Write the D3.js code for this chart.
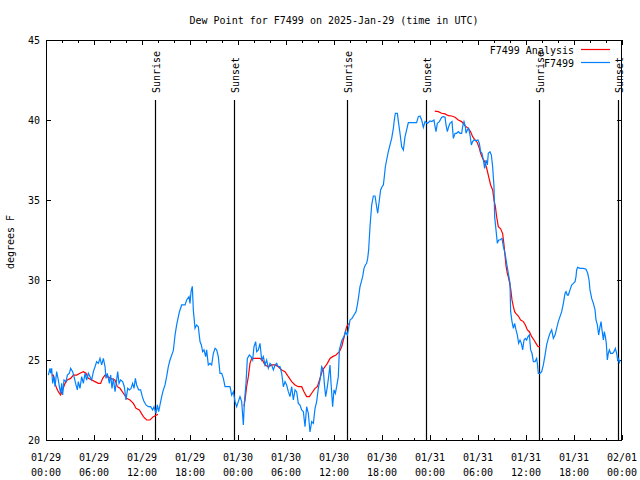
<!DOCTYPE html>
<html>
<head>
<meta charset="utf-8">
<script src="https://cdn.jsdelivr.net/npm/d3@7"></script>
<style>
  body { margin: 0; background: #fff; }
  svg { display: block; }
  text { font-family: "DejaVu Sans Mono", "Liberation Mono", monospace; font-size: 10px; fill: #000; }
</style>
</head>
<body>
<svg id="chart" width="640" height="480"></svg>
<script>
// ---------- DATA ----------
const chartTitle = "Dew Point for F7499 on 2025-Jan-29 (time in UTC)";
const yAxisTitle = "degrees F";
const seriesNames = ["F7499 Analysis", "F7499"];

// observed series: hours since 2025-01-29 00:00 UTC
const obsHours = [
  0.29,0.5,0.58,0.71,0.83,1.0,1.13,1.33,1.54,1.67,1.83,1.96,2.08,2.25,2.5,2.67,2.92,3.08,3.33,3.5,3.75,3.92,4.04,4.25,4.46,4.67,4.88,5.08,5.29,5.5,5.71,5.92,6.13,6.33,6.54,6.75,6.96,7.17,7.38,7.5,7.67,7.92,8.08,8.25,8.42,8.63,8.83,8.96,9.13,9.33,9.58,9.79,10.0,10.21,10.42,10.63,10.83,11.0,11.17,11.33,11.58,11.83,12.04,12.25,12.5,12.79,13.08,13.33,13.5,13.75,13.92,14.08,14.25,14.46,14.67,14.88,15.08,15.29,15.5,
  15.92,16.13,16.33,16.67,16.96,17.38,17.58,17.88,18.0,18.13,18.29,18.42,18.63,18.83,19.04,19.25,19.42,19.58,19.75,19.96,20.08,20.29,20.5,20.71,20.92,21.13,21.33,21.54,21.75,21.96,22.17,22.38,22.58,23.0,
  23.21,23.42,23.63,23.83,24.04,24.25,24.46,24.67,24.79,25.0,25.17,25.42,25.63,25.83,26.0,26.21,26.33,26.54,26.75,26.96,27.17,27.38,27.58,27.79,28.0,28.21,28.42,28.63,28.83,29.04,29.25,29.46,29.67,29.88,30.08,30.29,30.5,30.71,30.92,31.13,31.33,31.54,31.75,31.96,32.17,32.38,32.58,32.79,33.0,33.21,33.42,33.63,33.83,34.04,34.25,34.46,34.67,34.79,34.96,35.17,35.38,35.5,35.63,35.83,36.0,36.17,36.33,36.54,36.67,36.83,37.0,37.25,37.42,37.67,37.83,38.0,38.25,38.5,38.75,38.92,39.08,39.25,39.42,39.58,39.75,39.92,40.08,40.21,40.33,
  40.5,40.71,40.92,41.13,41.33,41.46,41.67,41.83,42.0,42.17,42.29,42.42,42.58,42.79,43.0,43.21,43.42,43.54,43.67,43.92,44.08,44.25,44.46,44.67,44.88,45.08,45.29,45.92,46.33,46.54,46.75,46.96,47.17,47.38,47.67,48.0,48.21,48.5,48.63,48.75,48.92,49.17,49.46,49.67,49.88,50.0,50.17,50.33,50.5,50.75,50.92,51.13,51.33,51.54,51.75,51.96,52.08,52.25,52.42,52.5,52.67,52.83,53.0,53.17,53.33,53.5,53.75,54.0,54.17,54.33,54.5,54.67,54.83,55.0,55.17,55.29,55.5,55.67,55.83,56.0,56.08,56.25,56.42,56.58,56.75,57.0,57.17,57.38,57.58,57.79,58.0,
  58.08,58.25,58.42,58.58,58.75,58.92,59.08,59.25,59.42,59.58,59.75,59.92,60.08,60.25,60.42,60.58,60.75,60.92,61.13,61.33,61.42,61.54,61.75,61.96,62.17,62.38,62.58,62.79,63.0,63.21,63.42,63.63,63.83,64.04,64.25,64.46,64.67,64.88,65.0,65.17,65.29,65.5,65.71,65.92,66.13,66.25,66.33,66.46,66.75,67.17,67.5,67.71,67.88,68.0,68.21,68.42,68.63,68.75,68.92,69.08,69.25,69.38,69.5,69.67,69.79,69.92,70.04,70.17,70.29,70.42,70.58,70.83,71.0,71.17,71.33,71.46,71.58,71.67,71.75
];
const obsValues = [
  24.06,24.48,24.17,24.48,23.54,23.96,23.33,24.27,23.75,23.33,22.92,23.54,22.81,23.75,23.65,24.06,24.17,24.48,24.27,23.96,23.44,23.13,23.65,23.23,23.96,23.54,24.17,23.75,24.17,23.96,23.75,24.27,24.58,24.9,24.79,25.1,24.69,25.1,24.58,23.85,24.17,23.54,24.06,23.23,23.85,23.02,23.75,24.27,23.54,23.75,23.65,23.33,22.5,23.23,23.13,23.23,23.54,23.23,23.85,23.44,23.13,23.13,22.71,22.4,22.19,22.08,22.08,21.88,22.08,21.67,22.19,21.77,22.19,22.71,23.13,23.44,23.96,24.58,25.0,
  25.6,26.56,27.19,28.0,28.44,28.44,28.75,28.96,28.54,29.27,29.6,28.1,26.98,27.19,27.08,26.15,25.94,25.52,25.63,25.21,25.63,24.69,24.79,24.69,25.42,25.73,25.63,25.21,24.17,24.17,23.85,23.33,23.33,23.33,
  22.8,23.02,22.4,22.08,22.4,22.71,22.4,20.94,22.29,23.54,25.1,25.31,25.21,25.0,25.83,26.15,25.52,25.63,26.04,25.0,25.21,24.69,25.0,24.48,24.79,24.69,24.38,24.69,24.79,24.58,24.58,24.17,23.33,23.65,23.44,23.02,22.71,23.33,22.5,23.13,23.02,22.29,22.19,21.88,21.77,20.83,22.08,21.67,20.5,21.15,21.04,21.98,22.4,23.23,23.75,24.58,24.38,23.54,22.71,23.33,24.17,24.69,23.54,22.08,23.13,22.92,23.33,23.96,25.63,25.94,26.25,26.46,26.77,26.56,26.98,27.5,27.6,27.81,28.02,28.44,28.96,29.58,29.9,30.21,30.73,30.94,31.04,31.35,31.88,
  33.33,34.69,35.25,35.25,34.58,34.17,35.0,35.63,35.83,35.94,36.46,37.08,37.5,38.02,38.44,38.85,39.48,40.0,40.42,40.42,39.79,39.17,38.33,38.13,38.96,39.38,39.83,39.83,39.83,40.21,40.25,40.0,39.54,39.9,39.79,39.94,39.9,40.0,39.58,39.27,39.79,39.9,40.17,40.21,40.17,39.69,39.27,39.58,39.79,39.9,38.85,39.17,39.17,39.27,39.17,39.17,39.58,39.9,39.58,39.17,39.38,39.48,39.06,38.44,38.65,38.75,38.71,38.75,38.54,38.02,37.92,37.5,36.98,37.5,37.19,37.92,38.02,37.81,37.08,35.83,33.96,33.13,32.29,32.5,32.5,32.6,32.08,31.67,31.04,30.42,29.79,
  28.02,27.4,26.98,27.29,26.88,26.56,26.04,26.25,26.04,25.63,26.25,26.35,26.25,26.46,26.56,25.63,25.42,24.9,24.9,25.1,24.79,24.17,24.17,24.27,24.69,25.31,25.94,26.35,26.67,26.88,26.35,26.56,26.98,27.4,27.71,28.02,28.54,29.17,29.27,29.06,29.06,29.38,29.69,29.79,29.9,30.21,30.63,30.79,30.73,30.73,30.67,30.42,30.0,29.38,28.85,28.54,28.13,27.5,27.19,26.56,27.08,27.4,26.88,26.25,26.77,26.46,26.04,25.0,25.42,25.63,25.42,25.42,25.52,25.73,25.42,25.0,25.1,24.79,25.0
];

// analysis series (null = gap)
const anaHours = [
  0.71,0.92,1.13,1.33,1.54,1.83,2.08,2.38,2.67,3.08,3.42,3.83,4.25,4.67,5.0,5.29,5.71,6.13,6.54,6.83,7.08,7.38,7.67,8.08,8.63,8.92,9.25,9.67,10.08,10.5,10.92,11.25,11.67,12.17,12.58,13.0,13.42,13.83,14.0,
  19.0,
  24.75,24.88,25.08,25.29,25.5,25.71,26.13,26.75,27.04,27.38,27.79,28.21,28.63,29.04,29.46,29.88,30.29,30.71,31.13,31.54,31.96,32.25,32.58,32.92,33.21,33.63,33.92,34.25,34.58,34.88,35.17,35.5,35.83,36.25,36.67,36.96,37.17,37.38,37.58,37.79,38.0,
  43.0,
  48.6,49.04,49.46,49.88,50.29,50.71,51.13,51.54,51.96,52.38,52.79,53.08,53.33,53.63,53.92,54.17,54.33,54.58,54.83,55.08,55.33,55.58,55.83,56.0,56.17,56.33,56.54,56.83,57.08,57.25,57.5,57.67,57.79,57.96,58.1,58.25,58.42,58.58,58.75,59.04,59.33,59.67,59.92,60.17,60.42,60.71,61.0,61.25,61.5,61.75
];
const anaValues = [
  24.06,24.06,23.54,23.23,23.02,22.81,23.13,23.54,23.75,23.85,24.06,24.06,24.17,24.27,24.17,23.85,23.75,23.65,23.54,23.54,23.85,24.06,23.96,23.85,23.75,23.33,23.23,22.92,22.6,22.5,22.29,21.98,21.88,21.46,21.25,21.25,21.46,21.56,21.6,
  null,
  22.1,22.5,23.33,23.96,24.79,25.1,25.1,25.1,25.0,24.69,24.58,24.69,24.69,24.58,24.38,24.27,23.96,23.65,23.44,23.33,23.33,23.02,22.71,22.71,22.92,23.23,23.33,23.85,24.38,24.58,24.79,25.1,25.21,25.31,25.52,25.83,26.25,26.67,27.08,27.25,27.25,
  null,
  40.56,40.52,40.42,40.38,40.27,40.25,40.17,40.0,39.9,39.63,39.48,39.27,38.96,38.75,38.58,38.23,37.92,37.6,37.4,37.0,36.46,35.94,35.63,35.0,34.6,33.96,33.33,33.2,32.9,32.2,30.9,30.4,30.2,29.8,29.4,28.75,28.33,28.02,27.9,27.75,27.5,27.4,27.19,26.88,26.77,26.46,26.25,26.04,25.83,25.83
];

const sunriseHours = [13.67, 37.67, 61.58];
const sunsetHours  = [23.55, 47.55, 71.55];

const xTickHours  = [0, 6, 12, 18, 24, 30, 36, 42, 48, 54, 60, 66, 72];
const xTickDates  = ["01/29","01/29","01/29","01/29","01/30","01/30","01/30","01/30","01/31","01/31","01/31","01/31","02/01"];
const xTickTimes  = ["00:00","06:00","12:00","18:00","00:00","06:00","12:00","18:00","00:00","06:00","12:00","18:00","00:00"];
const xMinorHours = d3.range(0, 73, 2);
const yTicks = [20, 25, 30, 35, 40, 45];

const colorAnalysis = "#ff0000";
const colorObs = "#0080ff";

// ---------- CHART ----------
const svg = d3.select("#chart");
const L = 46, R = 622, T = 40, B = 440;
const x = d3.scaleLinear().domain([0, 72]).range([L, R]);
const y = d3.scaleLinear().domain([20, 45]).range([B, T]);

const g = svg.append("g");

// title
svg.append("text").attr("x", (L + R) / 2).attr("y", 24).attr("text-anchor", "middle").text(chartTitle);

// y title
svg.append("text").attr("transform", "translate(14,242) rotate(-90)").attr("text-anchor", "middle").text(yAxisTitle);

// axes via d3-axis (ticks inward)
const majorLen = 5, minorLen = 2.5;
function styleAxis(sel) {
  sel.select(".domain").remove();
  sel.selectAll("line").attr("stroke", "#000").attr("shape-rendering", "crispEdges");
}
// bottom minor
g.append("g").attr("transform", `translate(0,${B})`)
  .call(d3.axisTop(x).tickValues(xMinorHours).tickSize(minorLen).tickFormat(""))
  .call(styleAxis);
// bottom major
g.append("g").attr("transform", `translate(0,${B})`)
  .call(d3.axisTop(x).tickValues(xTickHours).tickSize(majorLen).tickFormat(""))
  .call(styleAxis);
// top minor + major
g.append("g").attr("transform", `translate(0,${T})`)
  .call(d3.axisBottom(x).tickValues(xMinorHours).tickSize(minorLen).tickFormat(""))
  .call(styleAxis);
g.append("g").attr("transform", `translate(0,${T})`)
  .call(d3.axisBottom(x).tickValues(xTickHours).tickSize(majorLen).tickFormat(""))
  .call(styleAxis);
// left / right
g.append("g").attr("transform", `translate(${L},0)`)
  .call(d3.axisRight(y).tickValues(yTicks).tickSize(majorLen).tickFormat(""))
  .call(styleAxis);
g.append("g").attr("transform", `translate(${R},0)`)
  .call(d3.axisLeft(y).tickValues(yTicks).tickSize(majorLen).tickFormat(""))
  .call(styleAxis);

// tick labels
const yLab = svg.append("g");
yLab.selectAll("text").data(yTicks).join("text")
  .attr("x", L - 6).attr("y", d => y(d) + 4).attr("text-anchor", "end").text(d => d);

const xLab = svg.append("g");
xTickHours.forEach((h, i) => {
  const t = xLab.append("text").attr("text-anchor", "middle");
  t.append("tspan").attr("x", x(h)).attr("y", 461).text(xTickDates[i]);
  t.append("tspan").attr("x", x(h)).attr("y", 476).text(xTickTimes[i]);
});

// sunrise / sunset markers
const markers = sunriseHours.map(h => ({h, label: "Sunrise"}))
  .concat(sunsetHours.map(h => ({h, label: "Sunset"})));
const mk = svg.append("g");
markers.forEach(m => {
  const px = Math.round(x(m.h)) + 0.5;
  mk.append("line").attr("x1", px).attr("x2", px).attr("y1", 100).attr("y2", B)
    .attr("stroke", "#000").attr("stroke-width", 1.2);
  mk.append("text").attr("transform", `translate(${px + 4},93) rotate(-90)`)
    .attr("text-anchor", "start").text(m.label);
});

// data lines
const clip = svg.append("defs").append("clipPath").attr("id", "plotclip");
clip.append("rect").attr("x", L).attr("y", T).attr("width", R - L).attr("height", B - T);

const obsData = obsHours.map((h, i) => [h, obsValues[i]]);
const anaData = anaHours.map((h, i) => [h, anaValues[i]]);
const line = d3.line().defined(d => d[1] != null).x(d => x(d[0])).y(d => y(d[1]));

svg.append("path").datum(anaData).attr("clip-path", "url(#plotclip)")
  .attr("fill", "none").attr("stroke", colorAnalysis).attr("stroke-width", 1.2).attr("d", line);
svg.append("path").datum(obsData).attr("clip-path", "url(#plotclip)")
  .attr("fill", "none").attr("stroke", colorObs).attr("stroke-width", 1.2).attr("d", line);

// border
svg.append("rect").attr("x", L + 0.5).attr("y", T + 0.5).attr("width", R - L - 1).attr("height", B - T)
  .attr("fill", "none").attr("stroke", "#000").attr("shape-rendering", "crispEdges");

// legend
const legendItems = [
  {name: seriesNames[0], color: colorAnalysis, y: 49.5},
  {name: seriesNames[1], color: colorObs, y: 62.5}
];
const lg = svg.append("g");
legendItems.forEach(it => {
  lg.append("text").attr("x", 574).attr("y", it.y + 4).attr("text-anchor", "end").text(it.name);
  lg.append("line").attr("x1", 581).attr("x2", 610).attr("y1", it.y).attr("y2", it.y)
    .attr("stroke", it.color).attr("stroke-width", 1.2);
});
</script>
</body>
</html>
